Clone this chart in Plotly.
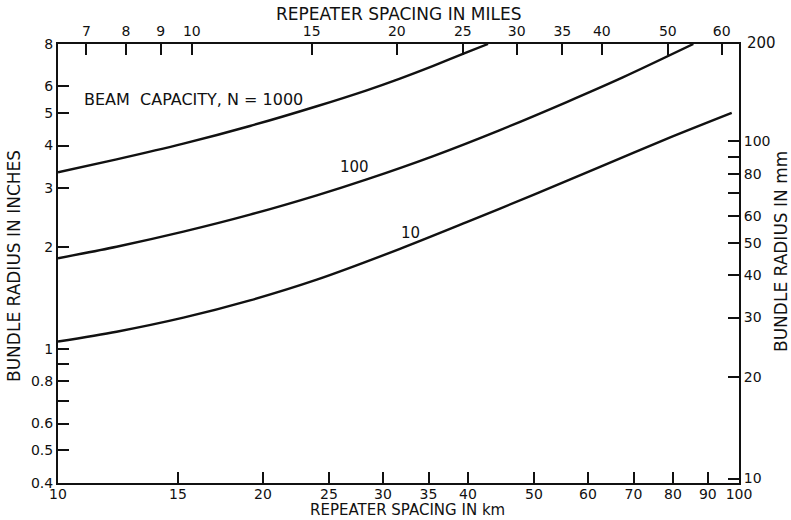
import plotly.graph_objects as go
import numpy as np

# Data (x: repeater spacing in km, y: bundle radius in inches)
km_1000 = [10.0, 12.19, 15.28, 19.14, 23.99, 28.4, 31.78, 35.57, 39.82, 42.8]
in_1000 = [3.334, 3.640, 4.052, 4.572, 5.232, 5.833, 6.319, 6.892, 7.552, 8.0]

km_100 = [10.0, 12.19, 15.28, 19.14, 23.99, 28.4, 35.57, 44.57, 55.85, 67.63, 85.69]
in_100 = [1.854, 2.006, 2.223, 2.496, 2.848, 3.176, 3.724, 4.447, 5.384, 6.381, 8.0]

km_10 = [10.0, 12.19, 15.28, 19.14, 23.99, 31.78, 39.82, 49.89, 62.51, 78.3, 97.57]
in_10 = [1.050, 1.123, 1.236, 1.391, 1.602, 1.977, 2.372, 2.857, 3.459, 4.188, 5.00]

km_ticks = [10, 15, 20, 25, 30, 35, 40, 50, 60, 70, 80, 90, 100]
mile_ticks = [7, 8, 9, 10, 15, 20, 25, 30, 35, 40, 50, 60]
inch_ticks = [0.4, 0.5, 0.6, 0.7, 0.8, 0.9, 1, 2, 3, 4, 5, 6, 8]
inch_labels = ["0.4", "0.5", "0.6", "", "0.8", "", "1", "2", "3", "4", "5", "6", "8"]
mm_ticks = [10, 20, 30, 40, 50, 60, 70, 80, 90, 100]
mm_labels = ["10", "20", "30", "40", "50", "60", "", "80", "", "100"]

FONT = "DejaVu Sans"
INK = "#111111"
FS = 14

# plot area in page pixels
L, R, T, B = 58, 739, 44, 483

fig = go.Figure()
for xs, ys in [(km_1000, in_1000), (km_100, in_100), (km_10, in_10)]:
    fig.add_trace(go.Scatter(x=xs, y=ys, mode="lines", line=dict(color=INK, width=2.4, shape="spline", smoothing=0.8),
                             showlegend=False, hoverinfo="skip"))
# invisible carriers so the secondary (top / right) axes are drawn
fig.add_trace(go.Scatter(x=mile_ticks, y=[None] * len(mile_ticks), xaxis="x2", yaxis="y", mode="markers",
                         marker=dict(opacity=0), showlegend=False, hoverinfo="skip"))
fig.add_trace(go.Scatter(x=[None] * len(mm_ticks), y=mm_ticks, xaxis="x", yaxis="y2", mode="markers",
                         marker=dict(opacity=0), showlegend=False, hoverinfo="skip"))

axis_common = dict(type="log", showgrid=False, zeroline=False, showline=True, linecolor=INK, linewidth=2,
                   ticks="inside", ticklen=11, tickwidth=1.5, tickcolor=INK, automargin=False,
                   tickfont=dict(family=FONT, size=FS, color=INK))

fig.update_layout(
    width=791, height=520,
    margin=dict(l=L, r=791 - R, t=T, b=520 - B),
    paper_bgcolor="white", plot_bgcolor="white",
    font=dict(family=FONT, color=INK),
    xaxis=dict(axis_common, range=[1, 2], tickvals=km_ticks, ticktext=[str(v) for v in km_ticks],
               ticklabelstandoff=-3),
    xaxis2=dict(axis_common, overlaying="x", side="top", anchor="y",
                range=[np.log10(6.36), np.log10(63.6)], tickvals=mile_ticks, ticktext=[str(v) for v in mile_ticks]),
    yaxis=dict(axis_common, range=[np.log10(0.4), np.log10(8)], tickvals=inch_ticks, ticktext=inch_labels),
    yaxis2=dict(axis_common, overlaying="y", side="right", anchor="x",
                range=[np.log10(9.7), np.log10(194)], tickvals=mm_ticks, ticktext=mm_labels),
)


def pann(px, py, text, size=FS, xanchor="center", **kw):
    fig.add_annotation(x=(px - L) / (R - L), y=(B - py) / (B - T), xref="paper", yref="paper", text=text,
                       showarrow=False, xanchor=xanchor, yanchor="middle",
                       font=dict(family=FONT, size=size, color=INK), **kw)

# axis titles (placed in page pixels)
pann(407, 510, "REPEATER SPACING IN km", size=15)
pann(398, 14, "REPEATER SPACING IN MILES", size=17)
pann(14, 266, "BUNDLE RADIUS IN INCHES", size=17, textangle=-90)
pann(781, 252, "BUNDLE RADIUS IN mm", size=17, textangle=-90)
# curve labels
pann(193.5, 99, "BEAM  CAPACITY, N = 1000", size=16)
pann(354, 167, "100", size=15)
pann(410, 233, "10", size=15)
pann(745, 43, "200", xanchor="left", size=15)

fig.write_html("out.html")
